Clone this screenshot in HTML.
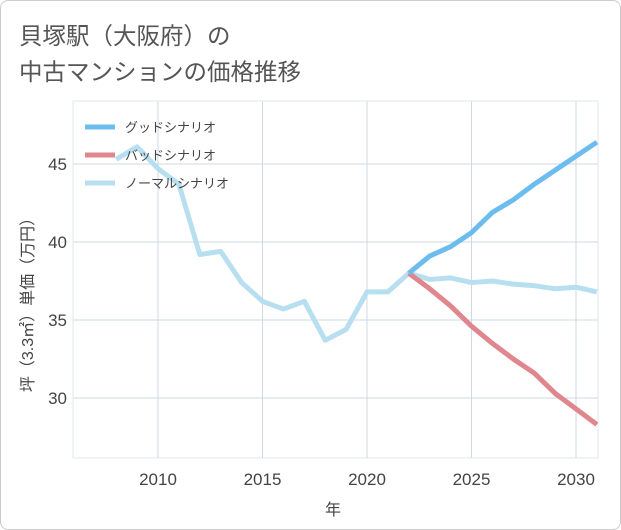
<!DOCTYPE html>
<html><head><meta charset="utf-8"><style>
body{margin:0;background:#fff;}
#w{position:relative;width:619px;height:528px;border:1px solid #ccc;border-radius:8px;overflow:hidden;font-family:"Liberation Sans","Noto Sans CJK JP",sans-serif;}
</style></head><body>
<div id="w">
<svg id="s" width="621" height="530"></svg>
</div>
<script>
const years=[2008,2009,2010,2011,2012,2013,2014,2015,2016,2017,2018,2019,2020,2021,2022,2023,2024,2025,2026,2027,2028,2029,2030,2031];
const normal=[45.3,46.1,44.7,43.7,39.2,39.4,37.4,36.2,35.7,36.2,33.7,34.4,36.8,36.8,38.0,37.6,37.7,37.4,37.5,37.3,37.2,37.0,37.1,36.8];
const fYears=[2022,2023,2024,2025,2026,2027,2028,2029,2030,2031];
const good=[38.0,39.1,39.7,40.6,41.9,42.7,43.7,44.6,45.5,46.4];
const bad=[38.0,37.0,35.9,34.6,33.5,32.5,31.6,30.3,29.3,28.3];
const xTicks=[2010,2015,2020,2025,2030];
const yTicks=[30,35,40,45];
const NS='http://www.w3.org/2000/svg',s=document.getElementById('s');
const L=72,R=597,T=100,B=457;
const X=v=>157+(v-2010)*20.9, Y=v=>241-(v-40)*15.6;
function el(t,a,p){const e=document.createElementNS(NS,t);for(const k in a)e.setAttribute(k,a[k]);(p||s).appendChild(e);return e;}
function txt(x,y,str,a){const e=el('text',Object.assign({x:x,y:y,fill:'#555'},a));e.textContent=str;return e;}
let t=txt(18,43,'貝塚駅（大阪府）の',{'font-size':23.5,fill:'#555'});


t=txt(18,79,'中古マンションの価格推移',{'font-size':23.5,fill:'#555'});


xTicks.forEach(v=>{const g=el('line',{x1:X(v),x2:X(v),y1:T,y2:B,stroke:'#cfd9e3'});

const l=txt(X(v),484,v,{'font-size':17,'text-anchor':'middle',fill:'#444'});
});
yTicks.forEach(v=>{const g=el('line',{x1:L,x2:R,y1:Y(v),y2:Y(v),stroke:'#cfd9e3'});

const l=txt(66,Y(v)+6,v,{'font-size':17,'text-anchor':'end',fill:'#444'});
});
const ax=el('rect',{x:L,y:T,width:R-L,height:B-T,fill:'none',stroke:'#dfe6ed'});

t=txt(332,514,'年',{'font-size':16,'text-anchor':'middle',fill:'#444'});

t=txt(0,0,'坪（3.3㎡）単価（万円）',{'font-size':16,'text-anchor':'middle',fill:'#444',transform:'translate(32,300) rotate(-90)'});

const cp=el('clipPath',{id:'c'});el('rect',{x:L,y:T-10,width:R-L,height:B-T+20},cp);
function line(xs,ys,c,name){const p=el('path',{d:xs.map((x,i)=>(i?'L':'M')+X(x)+','+Y(ys[i])).join(''),fill:'none',stroke:c,'stroke-width':5,'stroke-linejoin':'round','clip-path':'url(#c)'});
}
line(years,normal,'#b8dff0','normal-line');
line(fYears,bad,'#e0868e','bad-line');
line(fYears,good,'#6cbdee','good-line');
[['グッドシナリオ','#6cbdee'],['バッドシナリオ','#e0868e'],['ノーマルシナリオ','#b8dff0']].forEach((d,i)=>{
const y=126+i*28;const g=el('g',{});
el('line',{x1:84,x2:114,y1:y,y2:y,stroke:d[1],'stroke-width':5},g);
const tt=el('text',{x:124,y:y+5,'font-size':13,fill:'#444'},g);tt.textContent=d[0];});
</script>
</body></html>
